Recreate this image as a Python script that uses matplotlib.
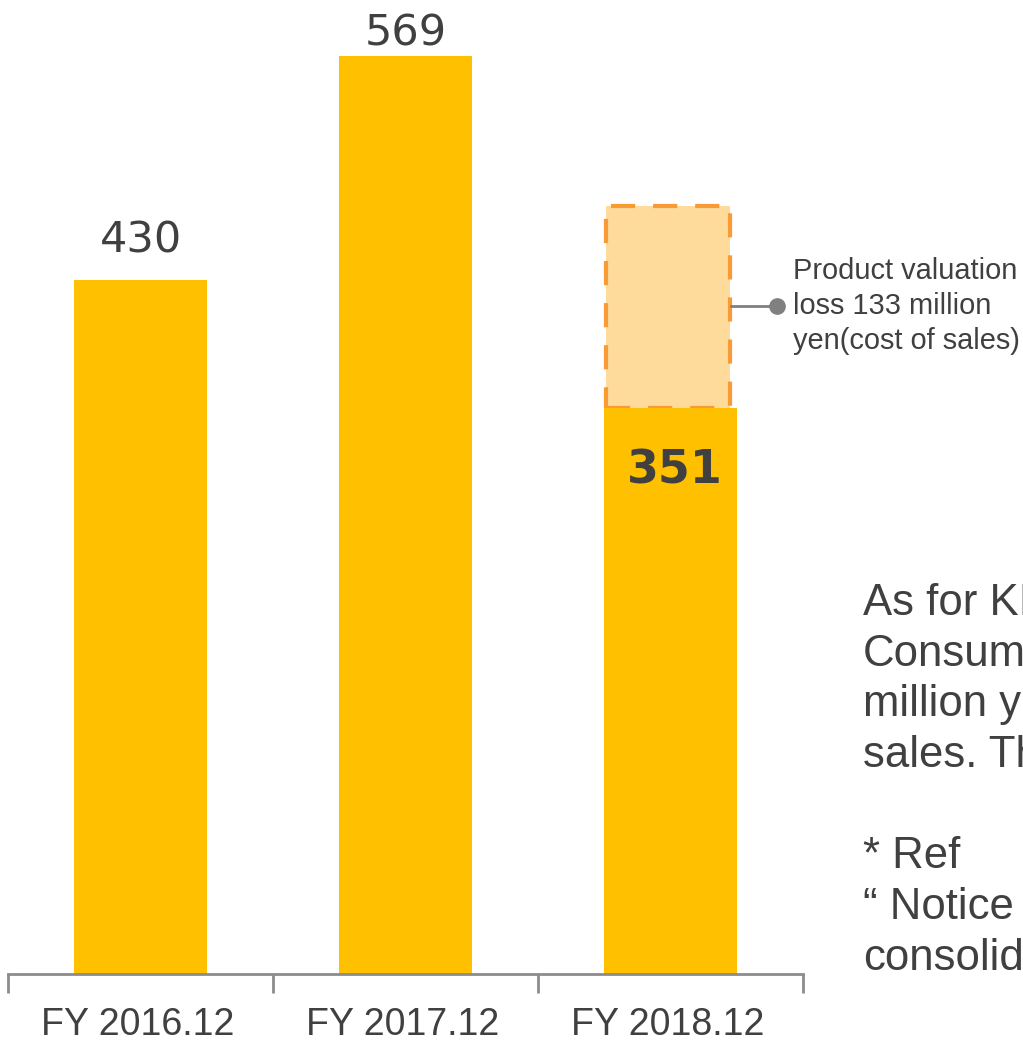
import matplotlib.pyplot as plt
import numpy as np

categories = ['FY 2016.12', 'FY 2017.12', 'FY 2018.12']
values = [430, 569, 351]
loss_box = 125          # drawn height of the dashed "valuation loss" box
loss_note = 'Product valuation\nloss 133 million\nyen(cost of sales)'
side_text = ['As for KITOKU', 'Consumer', 'million yen', 'sales. The', '',
             '* Ref', '\u201c Notice of', 'consolidated']

W, H = 1023, 1042
fig = plt.figure(figsize=(W / 100, H / 100), dpi=100)
ax = fig.add_axes([8 / W, 1 - 974 / H, 795 / W, 974 / H])

x = np.arange(len(categories))
gold = '#FFC000'
txt = '#404040'
ax.bar(x, values, width=0.5, color=gold, zorder=2)

# dashed loss box on top of the last bar
ax.bar(x[-1] - 0.01, loss_box, bottom=values[-1], width=0.47, color='#FEDB9B',
       edgecolor='#F89B34', linewidth=3, linestyle=(0, (5.8, 4.3)), zorder=1)

# value labels (the tallest one sits closer to its bar, as in the slide)
ax.text(x[0], values[0] + 24.5, str(values[0]), ha='center', va='center',
        fontsize=31, color=txt, family='DejaVu Sans')
ax.text(x[1], min(values[1] + 24.5, 582.5), str(values[1]), ha='center', va='center',
        fontsize=31, color=txt, family='DejaVu Sans')
ax.text(x[-1] + 0.015, values[-1] - 39.5, str(values[-1]), ha='center', va='center',
        fontsize=33, fontweight='bold', color=txt, family='DejaVu Sans')

ax.set_xlim(-0.5, 2.5)
ax.set_ylim(0, 603.5)

# connector line + dot
ya = 414
ax.plot([x[-1] + 0.23, x[-1] + 0.4], [ya, ya], color='#808080', lw=2,
        clip_on=False, zorder=3)
ax.plot([x[-1] + 0.4], [ya], 'o', color='#808080', ms=11, clip_on=False, zorder=3)
ax.text(x[-1] + 0.463, ya, loss_note, ha='left', va='center', fontsize=20.9,
        color=txt, family='Liberation Sans', linespacing=1.32, clip_on=False)

for s in ['top', 'right', 'left']:
    ax.spines[s].set_visible(False)
ax.spines['bottom'].set_color('#8C8C8C')
ax.spines['bottom'].set_linewidth(2)
ax.set_yticks([])
ax.set_xticks([-0.5, 0.5, 1.5, 2.5])
ax.set_xticklabels([])
ax.tick_params(axis='x', length=14, width=2, color='#8C8C8C', direction='out')
for i, c in enumerate(categories):
    ax.text(x[i] - 0.01, -31.6, c, ha='center', va='center', fontsize=27, color=txt,
            family='Liberation Sans', clip_on=False)

fig.text(863 / W, 1 - 583 / H, '\n'.join(side_text), ha='left', va='top',
         fontsize=31.5, color=txt, family='Liberation Sans', linespacing=1.303)

fig.savefig('out.png', dpi=100)
